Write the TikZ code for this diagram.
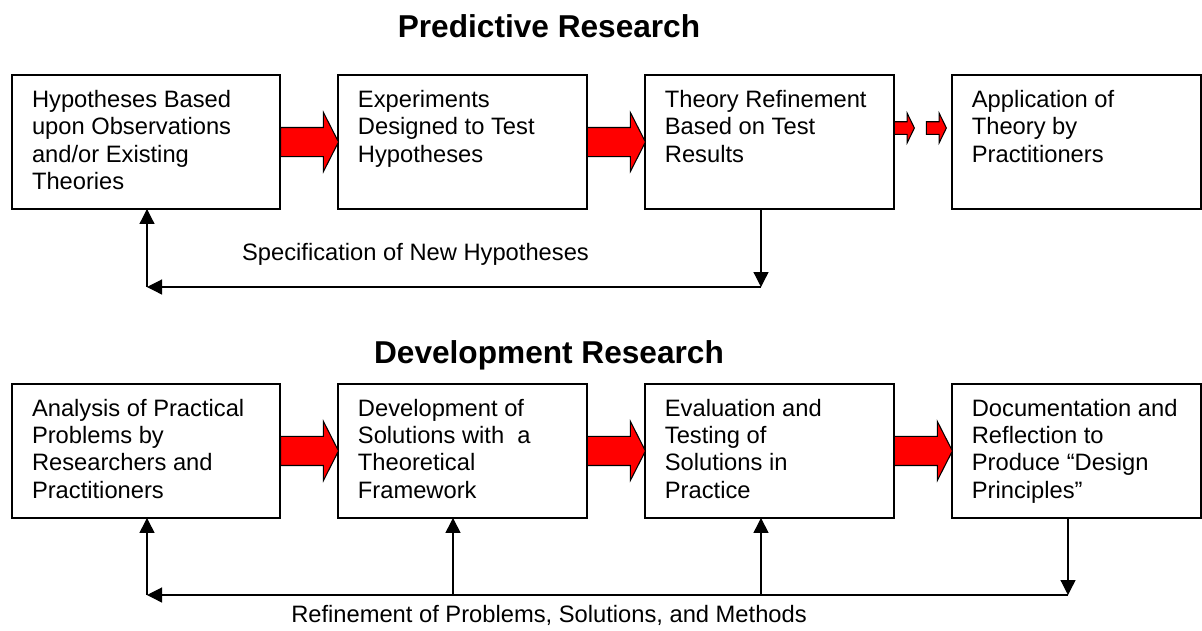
\documentclass[tikz,border=0pt]{standalone}
\usepackage{fontspec}
\setmainfont{Liberation Sans}
\usepackage{tikz}
\usetikzlibrary{arrows.meta,positioning,shapes.arrows}
\newcommand{\boxfont}{\fontsize{13.5}{15.6}\selectfont}
\newcommand{\ttlfont}{\fontsize{18}{21}\selectfont\bfseries}
\newcommand{\stagetxt}[2]{\parbox[t][2.08cm][t]{#1}{\raggedright #2}}
\tikzstyle{stage} = [draw, rectangle, line width=0.9pt, outer sep=0pt, inner xsep=0.4cm, inner ysep=0.3cm, font=\boxfont]
\tikzstyle{bigarr} = [single arrow, draw=black, fill=red, line width=0.6pt, inner xsep=0pt, inner ysep=0.28cm, single arrow head extend=0.3cm, single arrow tip angle=126, minimum height=1.16cm, anchor=tail]
\tikzstyle{smallarr} = [single arrow, draw=black, fill=red, line width=0.6pt, inner xsep=0pt, inner ysep=0.115cm, single arrow head extend=0.17cm, single arrow tip angle=128, minimum height=0.4cm, anchor=tail]
\tikzstyle{fb} = [line width=0.7pt, -{Triangle[length=0.3cm,width=0.3cm]}]
\tikzstyle{lbl} = [font=\boxfont, inner sep=0pt, anchor=base]
\tikzstyle{ttl} = [font=\ttlfont, inner sep=0pt, anchor=base]

\begin{document}
\begin{tikzpicture}[x=0.02cm, y=-0.02cm]
            \useasboundingbox (0,0) rectangle (1202,630);
            % predictive research
            \node[ttl] (h1) at (549,37) {Predictive Research};
            \node[stage] (p1) at (146,142) {\stagetxt{4.56cm}{Hypotheses Based\\ upon Observations\\ and/or Existing\\ Theories}};
            \node[stage, right=1.16cm of p1] (p2) {\stagetxt{4.18cm}{Experiments\\ Designed to Test\\ Hypotheses}};
            \node[stage, right=1.16cm of p2] (p3) {\stagetxt{4.18cm}{Theory Refinement\\ Based on Test\\ Results}};
            \node[stage, right=1.16cm of p3] (p4) {\stagetxt{4.18cm}{Application of\\ Theory by\\ Practitioners}};
            \node[bigarr] (a12) at (p1.east) {};
            \node[bigarr] (a23) at (p2.east) {};
            \node[smallarr] (a34) at ([yshift=0.28cm]p3.east) {};
            \node[smallarr] (a34b) at ([xshift=0.64cm, yshift=0.28cm]p3.east) {};
            \coordinate (t3) at (761,287);
            \coordinate (t1) at (147,287);
            \draw[fb] (p3.south -| t3) -- (t3);
            \draw[fb] (t3) -- (t1);
            \draw[fb] (t1) -- (t1 |- p1.south);
            \node[lbl] (l1) at (415.5,260) {Specification of New Hypotheses};
            % development research
            \node[ttl] (h2) at (549,363) {Development Research};
            \node[stage, below=3.5cm of p1] (q1) {\stagetxt{4.56cm}{Analysis of Practical\\ Problems by\\ Researchers and\\ Practitioners}};
            \node[stage, right=1.16cm of q1] (q2) {\stagetxt{4.18cm}{Development of\\ Solutions with\ \ a\\ Theoretical\\ Framework}};
            \node[stage, right=1.16cm of q2] (q3) {\stagetxt{4.18cm}{Evaluation and\\ Testing of\\ Solutions in\\ Practice}};
            \node[stage, right=1.16cm of q3] (q4) {\stagetxt{4.18cm}{Documentation and\\ Reflection to\\ Produce “Design\\ Principles”}};
            \node[bigarr] (b12) at (q1.east) {};
            \node[bigarr] (b23) at (q2.east) {};
            \node[bigarr] (b34) at (q3.east) {};
            \coordinate (b4) at (1068,595);
            \coordinate (b3) at (761,595);
            \coordinate (b2) at (453,595);
            \coordinate (b1) at (147,595);
            \draw[fb] (q4.south -| b4) -- (b4);
            \draw[fb] (b4) -- (b1);
            \draw[fb] (b1) -- (b1 |- q1.south);
            \draw[fb] (b2) -- (b2 |- q2.south);
            \draw[fb] (b3) -- (b3 |- q3.south);
            \node[lbl] (l2) at (549,622) {Refinement of Problems, Solutions, and Methods};
        \end{tikzpicture}
\end{document}
